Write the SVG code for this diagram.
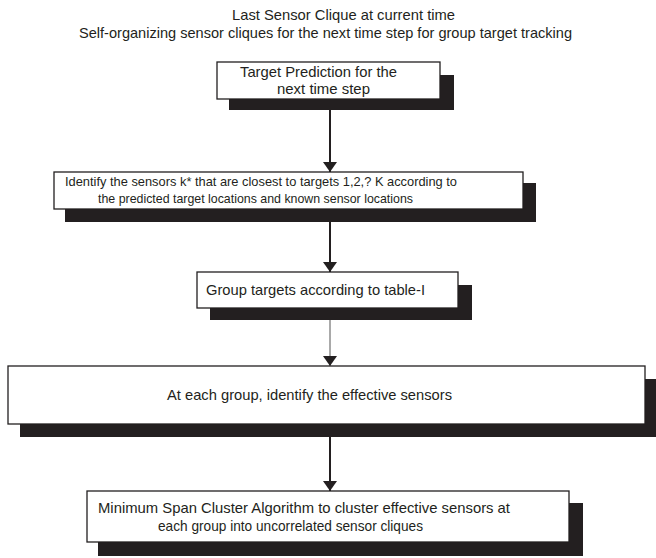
<svg xmlns="http://www.w3.org/2000/svg" width="656" height="558" viewBox="0 0 656 558">
<defs>
<style>
text{font-family:"Liberation Sans",Arial,sans-serif;font-size:14.6px;fill:#231f20}
.sm{font-size:12.7px}
.box{fill:#fff;stroke:#231f20;stroke-width:1.3}
.shd{fill:#231f20}
.ln{stroke:#231f20;stroke-width:2;fill:none}
.thin{stroke:#555;stroke-width:1;fill:none}
</style>
<marker id="ah" viewBox="0 0 10 14" refX="10" refY="7" markerUnits="userSpaceOnUse" markerWidth="10" markerHeight="14" orient="auto">
<path d="M0,0 L10,7 L0,14 Z" fill="#231f20"/>
</marker>
</defs>
<rect width="656" height="558" fill="#fff"/>
<g id="title">
<text x="232" y="20" textLength="223" lengthAdjust="spacingAndGlyphs">Last Sensor Clique at current time</text>
<text x="79" y="38" textLength="493" lengthAdjust="spacingAndGlyphs">Self-organizing sensor cliques for the next time step for group target tracking</text>
</g>
<g id="connectors">
<line class="ln" x1="330" y1="110" x2="330" y2="172" marker-end="url(#ah)"/>
<line class="ln" x1="330" y1="222" x2="330" y2="272" marker-end="url(#ah)"/>
<line class="thin" x1="330" y1="320" x2="330" y2="366" marker-end="url(#ah)"/>
<line class="ln" x1="330" y1="437" x2="330" y2="491" marker-end="url(#ah)"/>
</g>
<g id="n1">
<rect class="shd" x="229" y="75" width="225" height="35"/>
<rect class="box" x="217" y="62" width="223" height="37"/>
<text x="240" y="77" textLength="157" lengthAdjust="spacingAndGlyphs">Target Prediction for the</text>
<text x="277" y="94" textLength="93" lengthAdjust="spacingAndGlyphs">next time step</text>
</g>
<g id="n2">
<rect class="shd" x="65" y="183" width="471" height="39"/>
<rect class="box" x="54" y="172" width="469" height="37"/>
<text class="sm" x="65" y="186" textLength="392" lengthAdjust="spacingAndGlyphs">Identify the sensors k* that are closest to targets 1,2,? K according to</text>
<text class="sm" x="98" y="203" textLength="315" lengthAdjust="spacingAndGlyphs">the predicted target locations and known sensor locations</text>
</g>
<g id="n3">
<rect class="shd" x="210" y="285" width="262" height="35"/>
<rect class="box" x="197" y="272" width="261" height="36"/>
<text x="206" y="295" textLength="219" lengthAdjust="spacingAndGlyphs">Group targets according to table-I</text>
</g>
<g id="n4">
<rect class="shd" x="20" y="379" width="640" height="58"/>
<rect class="box" x="8" y="366" width="637" height="58"/>
<text x="167" y="400" textLength="285" lengthAdjust="spacingAndGlyphs">At each group, identify the effective sensors</text>
</g>
<g id="n5">
<rect class="shd" x="98" y="503" width="485" height="53"/>
<rect class="box" x="87" y="491" width="482" height="51"/>
<text x="98" y="513" textLength="412" lengthAdjust="spacingAndGlyphs">Minimum Span Cluster Algorithm to cluster effective sensors at</text>
<text x="158" y="531" textLength="265" lengthAdjust="spacingAndGlyphs">each group into uncorrelated sensor cliques</text>
</g>
</svg>
